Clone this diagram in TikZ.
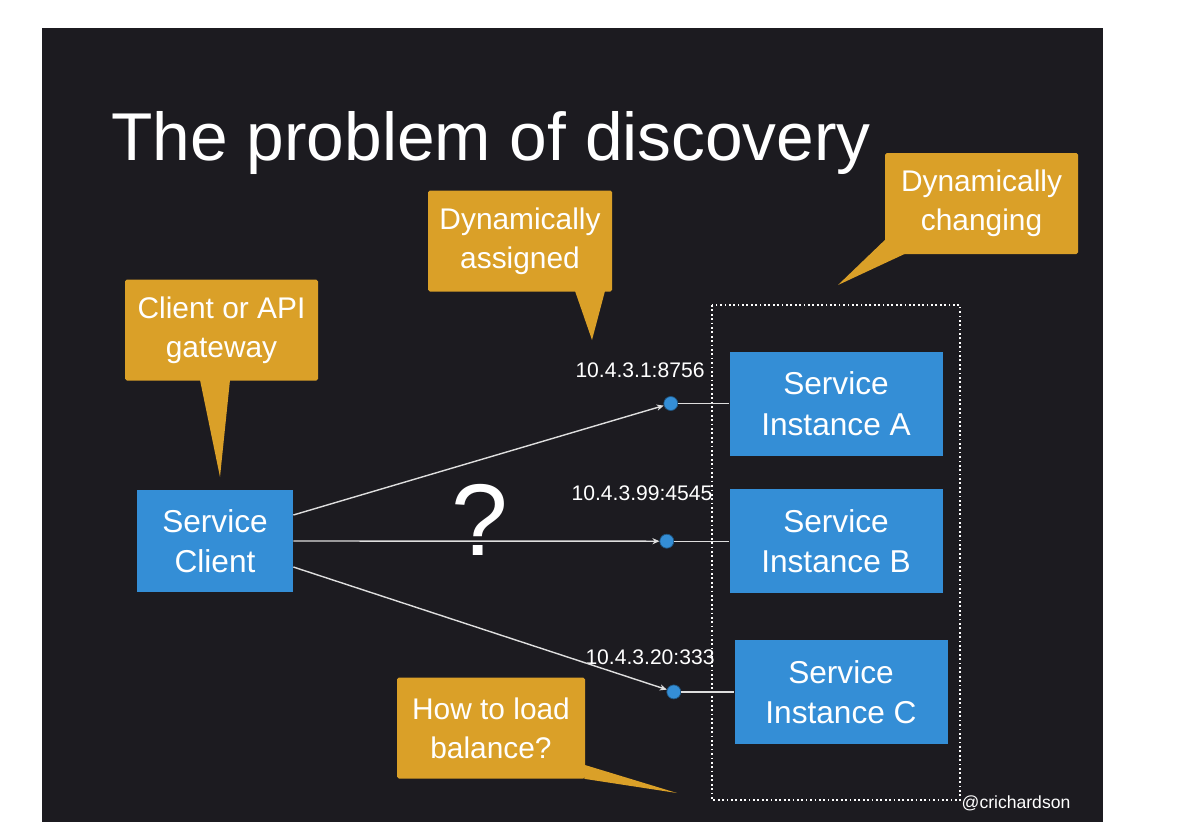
\documentclass[tikz,border=0pt]{standalone}
\usepackage{fontspec}
\setmainfont{Liberation Sans}
\usetikzlibrary{arrows.meta, positioning}

\definecolor{slidebg}{RGB}{28,27,32}
\definecolor{keyblue}{RGB}{52,142,214}
\definecolor{keygold}{RGB}{218,160,40}
\definecolor{wiregray}{RGB}{222,222,222}

\begin{document}
\begin{tikzpicture}[
    service/.style = {
        fill=keyblue,
        text=white,
        align=center,
        font=\fontsize{18}{23}\selectfont,
        minimum width=4.26cm,
        minimum height=2.08cm,
        inner sep=0pt
    },
    bubble/.style = {
        fill=keygold,
        text=white,
        align=center,
        font=\fontsize{17}{22}\selectfont,
        rounded corners=1pt,
        minimum width=3.8cm,
        minimum height=2.02cm,
        inner sep=0pt
    },
    endpoint/.style = {circle, fill=keyblue, draw=keyblue!60!black, minimum size=0.28cm, inner sep=0pt},
    addr/.style = {text=white, font=\fontsize{12}{14}\selectfont, inner sep=1pt},
    wire/.style = {draw=wiregray, line width=0.8pt},
    arrow/.style = {wire, -{Stealth[length=4pt, width=3.5pt]}}
]

%% ── Page and slide ──────────────────────────────────────────────────────────

\fill[white] (0,0) rectangle (24,-16.74);
\useasboundingbox (0,0) rectangle (24,-16.74);
\fill[slidebg] (0.84,-0.56) rectangle (22.06,-16.44);

\node[text=white, font=\fontsize{38.5}{46}\selectfont, anchor=base west, inner sep=0pt]
    (title) at (2.22,-3.2) {The problem of discovery};

%% ── Services ────────────────────────────────────────────────────────────────

\node[service, minimum width=3.12cm, minimum height=2.04cm] (client) at (4.3,-10.82) {Service\\Client};

\node[service] (instA) at (16.72,-8.07) {Service\\Instance A};
\node[service, below=0.66cm of instA]              (instB) {Service\\Instance B};
\node[service, below=0.92cm of instB, xshift=0.1cm] (instC) {Service\\Instance C};

% dynamic group
\draw[white, line width=0.6pt, dash pattern=on 1pt off 1.5pt] (14.24,-6.1) rectangle (19.2,-16.0);

%% ── Endpoints ───────────────────────────────────────────────────────────────

\node[endpoint, left=1.02cm of instA] (dotA) {};
\node[endpoint, left=1.1cm of instB]  (dotB) {};
\node[endpoint, left=1.06cm of instC] (dotC) {};

\node[addr] (addrA) at (12.8,-7.4)   {10.4.3.1:8756};
\node[addr] (addrB) at (12.84,-9.86) {10.4.3.99:4545};
\node[addr] (addrC) at (13.0,-13.14) {10.4.3.20:333};

%% ── Requests ────────────────────────────────────────────────────────────────

\draw[arrow] ([yshift=0.52cm]client.east)  -- (dotA);
\draw[arrow] (client.east)                 -- (dotB);
\draw[arrow] ([yshift=-0.52cm]client.east) -- (dotC);

\draw[wire] (dotA) -- (instA);
\draw[wire] (dotB) -- (instB);
\draw[wire] (dotC) -- (instC);

\node[text=white, font=\fontsize{58}{58}\selectfont] (query) at (9.6,-10.4) {?};

%% ── Callouts ────────────────────────────────────────────────────────────────

\node[bubble, minimum width=3.86cm] (gateway)  at (4.43,-6.6)   {Client or API\\gateway};
\node[bubble, minimum width=3.68cm] (assigned) at (10.4,-4.82)  {Dynamically\\assigned};
\node[bubble, minimum width=3.86cm] (changing) at (19.63,-4.07) {Dynamically\\changing};
\node[bubble, minimum width=3.76cm] (balance)  at (9.82,-14.56) {How to load\\balance?};

\coordinate (gatewaytip)  at (4.4,-9.54);
\coordinate (assignedtip) at (11.84,-6.8);
\coordinate (changingtip) at (16.76,-5.7);
\coordinate (balancetip)  at (13.54,-15.86);

\fill[keygold] ([xshift=-0.43cm, yshift=0.5pt]gateway.south) -- (gatewaytip)
    -- ([xshift=0.17cm, yshift=0.5pt]gateway.south) -- cycle;
\fill[keygold] ([xshift=1.1cm, yshift=0.5pt]assigned.south) -- (assignedtip)
    -- ([xshift=1.7cm, yshift=0.5pt]assigned.south) -- cycle;
\fill[keygold] ([xshift=0.5pt, yshift=0.3cm]changing.south west) -- (changingtip)
    -- ([xshift=0.42cm, yshift=0.5pt]changing.south west) -- cycle;
\fill[keygold] ([xshift=-0.5pt, yshift=0.28cm]balance.south east) -- (balancetip)
    -- ([xshift=-0.5pt]balance.south east) -- cycle;

%% ── Credit ──────────────────────────────────────────────────────────────────

\node[text=white, font=\fontsize{10}{12}\selectfont] (credit) at (20.32,-16.06) {@crichardson};

\end{tikzpicture}
\end{document}
